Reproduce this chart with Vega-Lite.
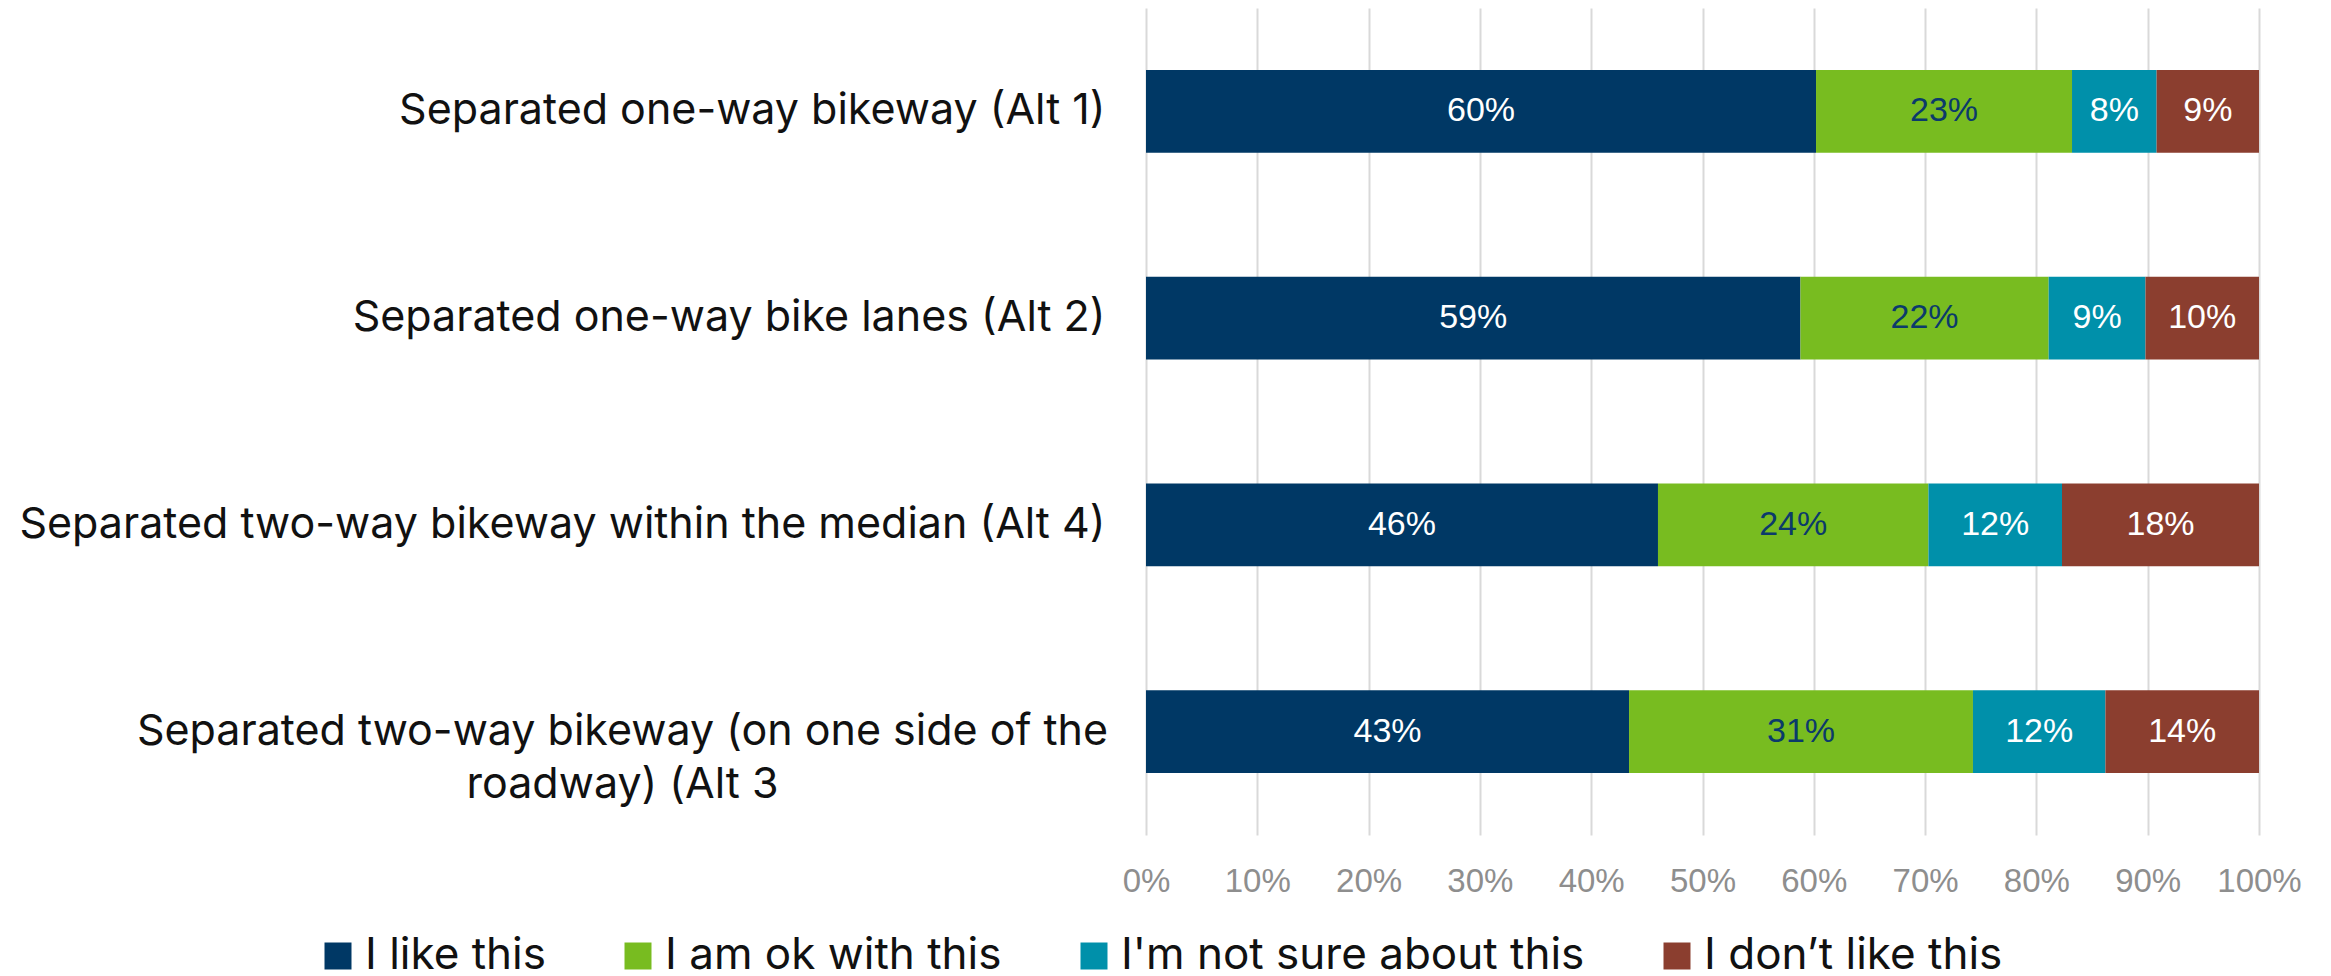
{
  "$schema": "https://vega.github.io/schema/vega-lite/v6.json",
  "width": 1113,
  "height": 827,
  "autosize": {"type": "none"},
  "padding": {"left": 1146, "top": 8, "right": 72, "bottom": 141},
  "background": "white",
  "config": {"view": {"stroke": null}},
  "data": {
    "values": [
      {"alt": "Separated one-way bikeway (Alt 1)", "response": "I like this", "rank": 1, "share": 0.602},
      {"alt": "Separated one-way bikeway (Alt 1)", "response": "I am ok with this", "rank": 2, "share": 0.230},
      {"alt": "Separated one-way bikeway (Alt 1)", "response": "I'm not sure about this", "rank": 3, "share": 0.076},
      {"alt": "Separated one-way bikeway (Alt 1)", "response": "I don’t like this", "rank": 4, "share": 0.092},
      {"alt": "Separated one-way bike lanes (Alt 2)", "response": "I like this", "rank": 1, "share": 0.588},
      {"alt": "Separated one-way bike lanes (Alt 2)", "response": "I am ok with this", "rank": 2, "share": 0.223},
      {"alt": "Separated one-way bike lanes (Alt 2)", "response": "I'm not sure about this", "rank": 3, "share": 0.087},
      {"alt": "Separated one-way bike lanes (Alt 2)", "response": "I don’t like this", "rank": 4, "share": 0.102},
      {"alt": "Separated two-way bikeway within the median (Alt 4)", "response": "I like this", "rank": 1, "share": 0.460},
      {"alt": "Separated two-way bikeway within the median (Alt 4)", "response": "I am ok with this", "rank": 2, "share": 0.243},
      {"alt": "Separated two-way bikeway within the median (Alt 4)", "response": "I'm not sure about this", "rank": 3, "share": 0.120},
      {"alt": "Separated two-way bikeway within the median (Alt 4)", "response": "I don’t like this", "rank": 4, "share": 0.177},
      {"alt": "Separated two-way bikeway (on one side of the roadway) (Alt 3", "response": "I like this", "rank": 1, "share": 0.434},
      {"alt": "Separated two-way bikeway (on one side of the roadway) (Alt 3", "response": "I am ok with this", "rank": 2, "share": 0.309},
      {"alt": "Separated two-way bikeway (on one side of the roadway) (Alt 3", "response": "I'm not sure about this", "rank": 3, "share": 0.119},
      {"alt": "Separated two-way bikeway (on one side of the roadway) (Alt 3", "response": "I don’t like this", "rank": 4, "share": 0.138}
    ]
  },
  "resolve": {"axis": {"y": "independent"}},
  "layer": [
    {
      "mark": {"type": "bar"},
      "encoding": {
        "y": {
          "field": "alt",
          "type": "nominal",
          "sort": null,
          "title": null,
          "scale": {"paddingInner": 0.6, "paddingOuter": 0.3},
          "axis": {
            "orient": "left",
            "domain": false,
            "ticks": false,
            "labelFont": "Inter",
            "labelFontSize": 43,
            "labelColor": "#111111",
            "labelPadding": 41,
            "labelLimit": 1200,
            "labelExpr": "datum.value == 'Separated two-way bikeway (on one side of the roadway) (Alt 3' ? '' : datum.value"
          }
        },
        "x": {
          "field": "share",
          "type": "quantitative",
          "stack": "zero",
          "title": null,
          "scale": {"domain": [0, 1], "nice": false},
          "axis": {
            "format": ".0%",
            "values": [0, 0.1, 0.2, 0.3, 0.4, 0.5, 0.6, 0.7, 0.8, 0.9, 1],
            "grid": true,
            "gridColor": "#d9d9d9",
            "gridWidth": 2,
            "domain": false,
            "ticks": false,
            "labelFont": "Liberation Sans",
            "labelFontSize": 33,
            "labelColor": "#8e8e8e",
            "labelPadding": 30,
            "labelFlush": false
          }
        },
        "color": {
          "field": "response",
          "type": "nominal",
          "sort": ["I like this", "I am ok with this", "I'm not sure about this", "I don’t like this"],
          "scale": {
            "domain": ["I like this", "I am ok with this", "I'm not sure about this", "I don’t like this"],
            "range": ["#003865", "#78bc20", "#0090aa", "#8b3e2f"]
          },
          "legend": {
            "orient": "none",
            "legendX": -830,
            "legendY": 926,
            "direction": "horizontal",
            "columns": 4,
            "title": null,
            "symbolType": "square",
            "symbolSize": 729,
            "symbolStrokeWidth": 0,
            "labelFont": "Inter",
            "labelFontSize": 44,
            "labelColor": "#111111",
            "labelOffset": 5,
            "columnPadding": 70,
            "padding": 0,
            "labelLimit": 1000
          }
        },
        "order": {"field": "rank"}
      }
    },
    {
      "mark": {"type": "text", "font": "Liberation Sans", "fontSize": 34, "align": "center", "baseline": "middle"},
      "encoding": {
        "y": {
          "field": "alt",
          "type": "nominal",
          "sort": null,
          "title": null,
          "axis": {
            "orient": "left",
            "domain": false,
            "ticks": false,
            "grid": false,
            "labelFont": "Inter",
            "labelFontSize": 43,
            "labelColor": "#111111",
            "labelAlign": "center",
            "labelPadding": 524,
            "labelLimit": 1200,
            "labelLineHeight": 53,
            "labelExpr": "datum.value == 'Separated two-way bikeway (on one side of the roadway) (Alt 3' ? ['Separated two-way bikeway (on one side of the', 'roadway) (Alt 3'] : ''"
          }
        },
        "x": {"field": "share", "type": "quantitative", "stack": "zero", "bandPosition": 0.5},
        "detail": {"field": "response"},
        "order": {"field": "rank"},
        "text": {"field": "share", "format": ".0%"},
        "color": {
          "condition": {"test": "datum.response == 'I am ok with this'", "value": "#0b3a6b"},
          "value": "#ffffff"
        }
      }
    }
  ]
}
